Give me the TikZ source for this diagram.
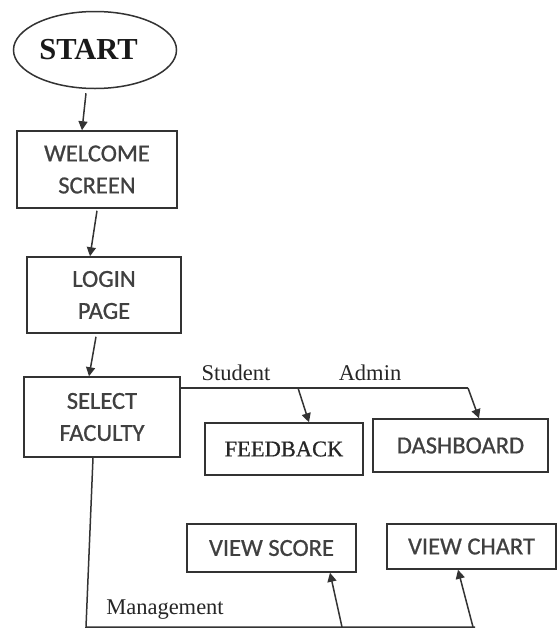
\documentclass[tikz,border=0pt]{standalone}
\usepackage{fontspec}
\setmainfont{Liberation Serif}
\newfontfamily\carl[FakeBold=0.8]{Carlito}
\newfontfamily\serb[FakeBold=0.7]{Liberation Serif}
\usetikzlibrary{shapes.geometric,arrows.meta}
\definecolor{ln}{HTML}{333333}
\definecolor{tx}{HTML}{404040}
\begin{document}
\begin{tikzpicture}[x=1pt,y=-1pt,
  box/.style={draw=ln,line width=1.5pt,rectangle,inner sep=0pt,align=center,text=tx,font=\carl\fontsize{24.5}{32}\selectfont},
  conn/.style={draw=ln,line width=1.5pt},
  arr/.style={draw=ln,line width=1.5pt,-{Triangle[length=9pt,width=9pt]}},
  lab/.style={text=black!85,font=\fontsize{22.5}{26}\selectfont,inner sep=0pt}]
\useasboundingbox (0,0) rectangle (560,630);
\fill[white] (0,0) rectangle (560,630);
% nodes
\node[draw=ln,ellipse,line width=1.5pt,minimum width=163pt,minimum height=77pt,inner sep=0pt,text=black!90,font=\bfseries\fontsize{30.5}{32}\selectfont] (start) at (95,50) {START\hspace*{13pt}};
\node[box,minimum width=160pt,minimum height=77pt] (wel) at (97,169.5) {WELCOME\\SCREEN};
\node[box,minimum width=154pt,minimum height=76pt] (login) at (104,295) {LOGIN\\PAGE};
\node[box,minimum width=156pt,minimum height=80pt] (sf) at (102,417) {SELECT\\FACULTY};
\node[box,minimum width=158pt,minimum height=52pt,text=black!85,font=\serb\fontsize{22.5}{26}\selectfont] (fb) at (284,449) {FEEDBACK};
\node[box,minimum width=175pt,minimum height=53pt] (db) at (460.5,445.5) {DASHBOARD};
\node[box,minimum width=169pt,minimum height=48pt] (vs) at (271.5,548) {VIEW SCORE};
\node[box,minimum width=169pt,minimum height=45pt] (vc) at (471.5,546.5) {VIEW CHART};
% labels
\node[lab] (stu) at (236,373) {Student};
\node[lab] (adm) at (370,373) {Admin};
\node[lab] (mgmt) at (165,610) {Management};
% coordinates
\coordinate (jS) at (298,388);
\coordinate (jA) at (468,388);
\coordinate (mB) at (86,627);
\coordinate (jV) at (342,627);
\coordinate (jC) at (473,627);
\coordinate (mE) at (475,627);
% connectors
\draw[arr] ([xshift=-9pt,yshift=-4pt]start.south) -- ([xshift=-15pt]wel.north);
\draw[arr] ([yshift=-2pt]wel.south) -- ([xshift=-14pt]login.north);
\draw[arr] ([xshift=-8pt,yshift=-3pt]login.south) -- ([xshift=-13pt]sf.north);
\draw[conn] ([yshift=29pt]sf.east) -- (jA);
\draw[arr] (jS) -- ([xshift=25pt]fb.north);
\draw[arr] (jA) -- ([xshift=18.5pt]db.north);
\draw[conn] ([xshift=-9pt]sf.south) -- (mB) -- (mE);
\draw[arr] (jV) -- ([xshift=58.5pt]vs.south);
\draw[arr] (jC) -- ([xshift=-13.5pt]vc.south);
\end{tikzpicture}
\end{document}
